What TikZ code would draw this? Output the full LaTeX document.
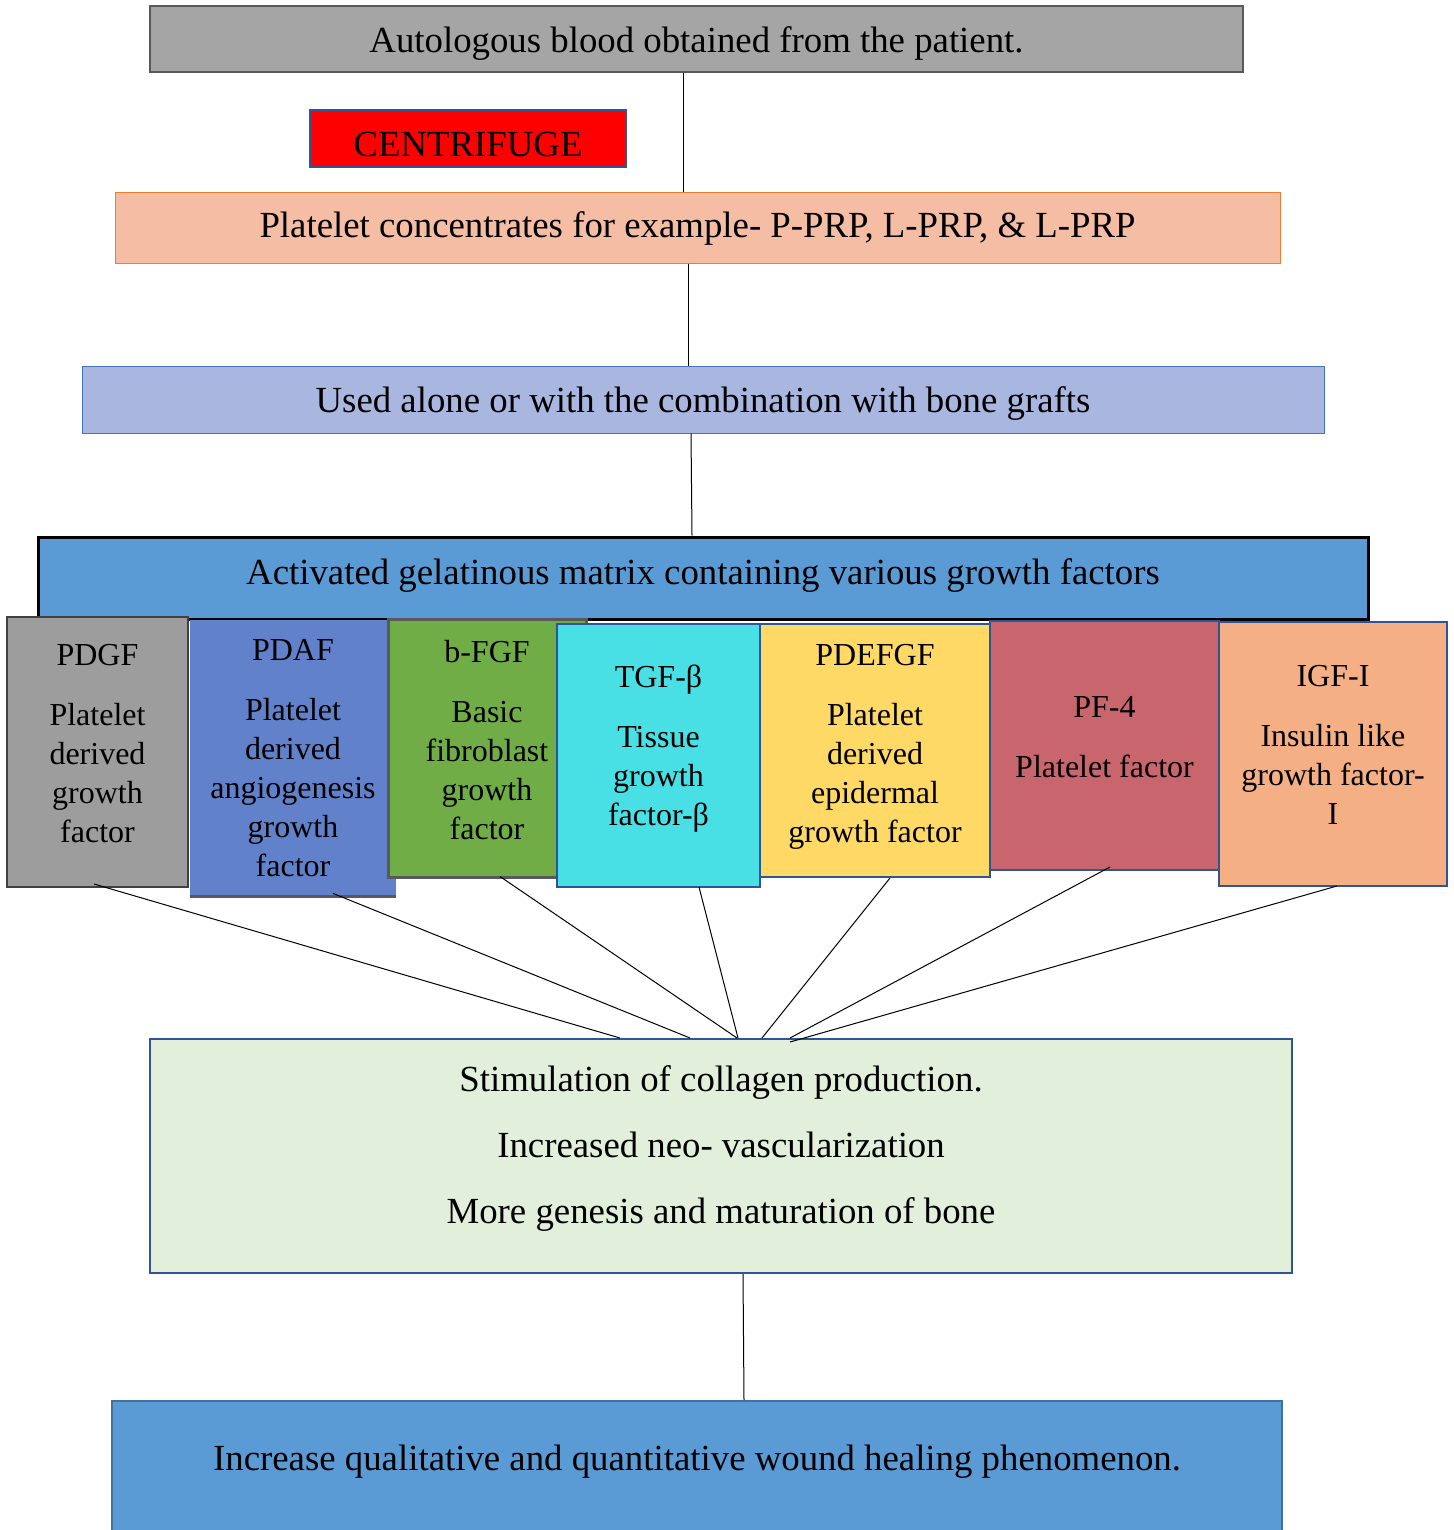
\documentclass[tikz,border=0pt]{standalone}
\usepackage{fontspec}
\setmainfont{Liberation Serif}

\definecolor{bloodgray}{HTML}{A5A5A5}
\definecolor{edgegray}{HTML}{595959}
\definecolor{edgeblue}{HTML}{2F5597}
\definecolor{concsalmon}{HTML}{F5BDA3}
\definecolor{concorange}{HTML}{ED7D31}
\definecolor{alonelilac}{HTML}{A9B7E0}
\definecolor{alonepen}{HTML}{4472C4}
\definecolor{matrixblue}{HTML}{5B9BD5}
\definecolor{pdgfgray}{HTML}{9D9D9D}
\definecolor{pdafblue}{HTML}{6182CA}
\definecolor{fgfgreen}{HTML}{70AD47}
\definecolor{tgfcyan}{HTML}{48E0E5}
\definecolor{pdefyellow}{HTML}{FFD966}
\definecolor{pfred}{HTML}{C9656D}
\definecolor{igforange}{HTML}{F4AF84}
\definecolor{stimgreen}{HTML}{E2EFDA}
\definecolor{healpen}{HTML}{41719C}

% strut that pushes the text block up inside its box
\newcommand{\lowstrut}[1]{\rule[-#1]{0pt}{#1}}

\begin{document}
\begin{tikzpicture}
      [x=0.5pt, y=-0.5pt,
      box/.style={inner sep=0pt, align=center, font=\fontsize{18.4}{19.5}\selectfont},
      gf/.style={box, font=\fontsize{16}{19.5}\selectfont},
      factor/.style={gf, draw=edgeblue, line width=1pt},
      link/.style={line width=0.5pt},
      ]
      \useasboundingbox (0,0) rectangle (1453,1530);

      % steps at the top
      \node (blood) [box, fill=bloodgray, draw=edgegray, line width=1pt,
        minimum width=546.5pt, minimum height=33pt, text height=15pt, text depth=1.4pt] at (696.5,39)
        {Autologous blood obtained from the patient.};
      \node (spin) [box, fill=red, draw=edgeblue, line width=1pt,
        minimum width=158pt, minimum height=28.5pt, text height=18.2pt, text depth=0pt] at (468,138.5)
        {CENTRIFUGE};
      \node (conc) [box, fill=concsalmon, draw=concorange, line width=0.5pt,
        minimum width=582.5pt, minimum height=35pt] at (697.5,228)
        {Platelet concentrates for example- P-PRP, L-PRP, \& L-PRP};
      \node (alone) [box, fill=alonelilac, draw=alonepen, line width=0.5pt,
        minimum width=621pt, minimum height=33.5pt, text height=12.6pt, text depth=0pt] at (703,399.5)
        {Used alone or with the combination with bone grafts};
      \node (matrix) [box, fill=matrixblue, draw=black, line width=1.5pt,
        minimum width=665pt, minimum height=41pt, text height=10.6pt, text depth=4pt] at (703,578)
        {Activated gelatinous matrix containing various growth factors};

      % growth factors
      \node (pdgf) [gf, fill=pdgfgray, draw=black!75, line width=1pt,
        minimum width=90.5pt, minimum height=135pt] at (97.5,752)
        {PDGF\\[10.5pt]Platelet\\derived\\growth\\factor\lowstrut{9pt}};
      \node (pdaf) [gf, fill=pdafblue, minimum width=103pt, minimum height=138pt] at (293,758)
        {PDAF\\[10.5pt]Platelet\\derived\\angiogenesis\\growth\\factor};
      \draw[edgegray, line width=1.5pt] (pdaf.south west) -- (pdaf.south east);
      \node (bfgf) [gf, fill=fgfgreen, draw=edgegray, line width=1.5pt,
        minimum width=99pt, minimum height=129pt] at (487,748)
        {b-FGF\\[10.5pt]Basic\\fibroblast\\growth\\factor\lowstrut{8pt}};
      \node (tgf) [factor, fill=tgfcyan, minimum width=101.5pt, minimum height=131.5pt] at (658.5,755.5)
        {TGF-β\\[10.5pt]Tissue\\growth\\factor-β\lowstrut{10.5pt}};
      \node (pdefgf) [factor, fill=pdefyellow, minimum width=115pt, minimum height=126.5pt] at (875,750.5)
        {PDEFGF\\[10.5pt]Platelet\\derived\\epidermal\\growth factor\lowstrut{7.5pt}};
      \node (pf4) [factor, fill=pfred, minimum width=114.5pt, minimum height=124.5pt] at (1104.5,745.5)
        {PF-4\\[10.5pt]Platelet factor\lowstrut{9pt}};
      \node (igf) [factor, fill=igforange, minimum width=114pt, minimum height=132pt] at (1333,754)
        {IGF-I\\[10.5pt]Insulin like\\growth factor-\\I\lowstrut{9pt}};

      % outcomes
      \node (stim) [box, fill=stimgreen, draw=edgeblue, line width=1pt,
        minimum width=571pt, minimum height=117pt] at (721,1156)
        {Stimulation of collagen production.\\[13.5pt]Increased neo- vascularization\\[13.5pt]More genesis and maturation of bone\lowstrut{11pt}};
      \node (heal) [box, fill=matrixblue, draw=healpen, line width=1pt,
        minimum width=585pt, minimum height=69.5pt, text height=4pt, text depth=4.4pt] at (697,1470.5)
        {Increase qualitative and quantitative wound healing phenomenon.};

      \draw[link] ([shift={(-13.5,0)}]blood.south) -- ([shift={(-14.5,0)}]conc.north);
      \draw[link] ([shift={(-9.5,0)}]conc.south) -- ([shift={(-15,0)}]alone.north);
      \draw[link] ([shift={(-12,0)}]alone.south) -- ([shift={(-11,0)}]matrix.north);
      \draw[link] ([shift={(-3.5,-4)}]pdgf.south) -- ([shift={(-101,0)}]stim.north);
      \draw[link] ([shift={(40,-3)}]pdaf.south) -- ([shift={(-31,0)}]stim.north);
      \draw[link] ([shift={(13,-2)}]bfgf.south) -- ([shift={(16,0)}]stim.north);
      \draw[link] ([shift={(40.5,-1)}]tgf.south) -- ([shift={(17,0)}]stim.north);
      \draw[link] ([shift={(15,0)}]pdefgf.south) -- ([shift={(41,0)}]stim.north);
      \draw[link] ([shift={(5.5,-4)}]pf4.south) -- ([shift={(69,0)}]stim.north);
      \draw[link] ([shift={(4,-1)}]igf.south) -- ([shift={(69,4)}]stim.north);
      \draw[link] ([shift={(22,0)}]stim.south) -- ([shift={(47,0)}]heal.north);
      \end{tikzpicture}
\end{document}
